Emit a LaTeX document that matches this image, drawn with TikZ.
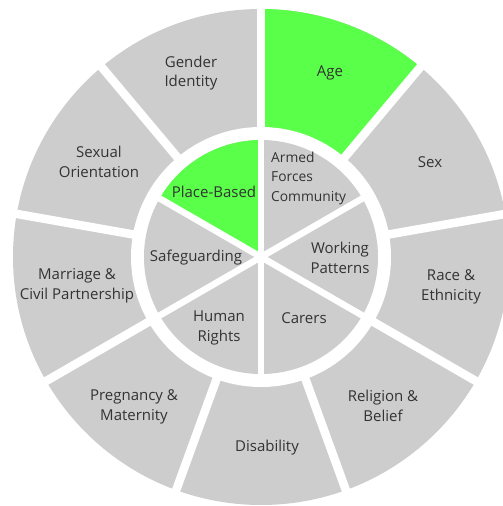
\documentclass[tikz,border=0pt]{standalone}
\usepackage{fontspec}
\setmainfont{Open Sans}
\definecolor{wheelGrey}{HTML}{CDCDCD}
\definecolor{wheelGreen}{HTML}{5AFF4A}
\definecolor{wheelText}{HTML}{333333}
\begin{document}
\begin{tikzpicture}[x=1pt,y=1pt,
  lbl/.style={align=center, text=wheelText, inner sep=0pt,
    font=\fontsize{15}{19.5}\selectfont},
  gap/.style={white, line width=8.5}]
\useasboundingbox (0,0) rectangle (503,506);
\clip (0,0) rectangle (503,506);
\coordinate (c) at (261,249);
% outer ring, Age in green
\fill[wheelGrey] (c) circle (248);
\fill[wheelGreen] (c) -- ++(50:248) arc (50:90:248) -- cycle;
\fill[white] (c) circle (130);
% inner disc, Place-Based in green
\fill[wheelGrey] (c) circle (117);
\fill[wheelGreen] (c) -- ++(90:117) arc (90:150:117) -- cycle;
% white gaps between the segments
\foreach \a in {10,50,...,330}
  \draw[gap] (c) ++(\a:120) -- ++(\a:140);
\foreach \a in {30,90,...,330}
  \draw[gap, line width=6.5] (c) -- ++(\a:118);
% outer ring labels
\node[lbl] (gender) at (191,433) {Gender\\Identity};
\node[lbl] (age) at (330,433) {Age};
\node[lbl] (sex) at (430,344) {Sex};
\node[lbl] (race) at (451,219) {Race \&\\Ethnicity};
\node[lbl] (religion) at (383,100) {Religion \&\\Belief};
\node[lbl] (disability) at (267,58) {Disability};
\node[lbl] (pregnancy) at (134,99) {Pregnancy \&\\Maternity};
\node[lbl] (marriage) at (77,220) {Marriage \&\\Civil Partnership};
\node[lbl] (orientation) at (99,344) {Sexual\\Orientation};
% inner disc labels
\node[lbl] (place) at (214,314) {Place-Based};
\node[lbl, align=left, anchor=west,
  font=\fontsize{13.8}{19.5}\selectfont] (armed) at (271,328) {Armed\\Forces\\Community};
\node[lbl] (working) at (340,248) {Working\\Patterns};
\node[lbl] (carers) at (304,188) {Carers};
\node[lbl] (rights) at (219,178) {Human\\Rights};
\node[lbl] (safeguarding) at (196,248) {Safeguarding};
\end{tikzpicture}
\end{document}
